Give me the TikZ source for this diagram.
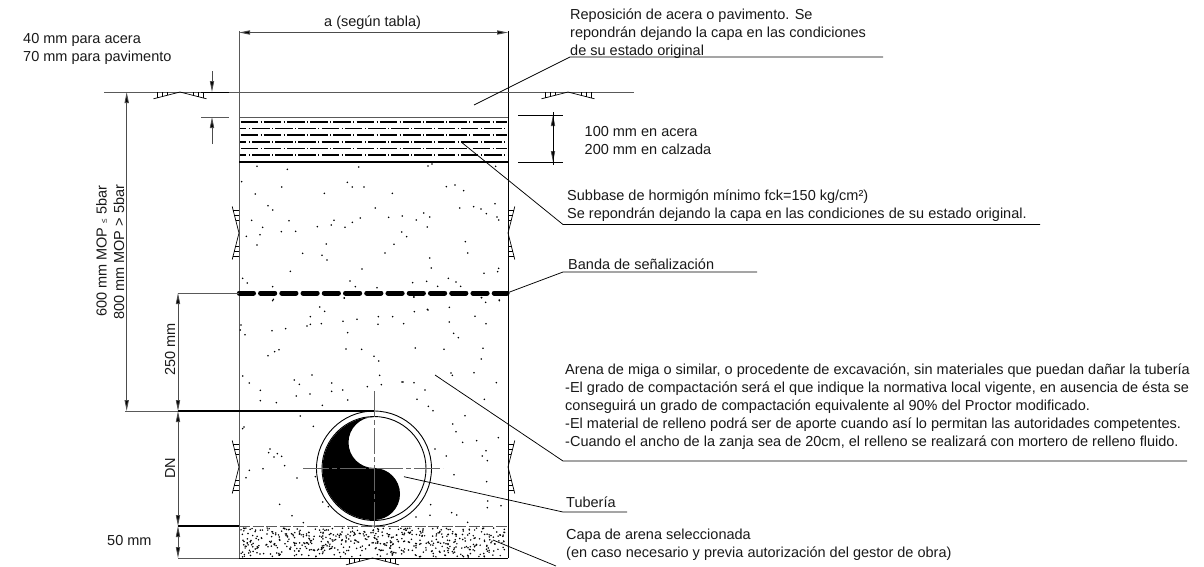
\documentclass[tikz,border=0pt]{standalone}
\usepackage{fontspec}
\setmainfont{Liberation Sans}
\usetikzlibrary{arrows.meta}
\tikzset{
  x=1pt,y=-1pt,
  wire/.style={draw=black,line width=0.75pt},
  soft/.style={draw=black!65,line width=0.85pt},
  strong/.style={draw=black,line width=1.2pt},
  tipped/.style={draw=black!70,line width=0.85pt,-{Triangle[length=11pt,width=4.2pt,fill=black]}},
  caption/.style={font=\fontsize{14.5}{18}\selectfont,anchor=north west,inner sep=0pt,align=left,text=black!90},
  upcaption/.style={font=\fontsize{14.5}{18}\selectfont,anchor=base west,inner sep=0pt,rotate=90,text=black!90},
  layerline/.style={draw=black,line width=1.1pt,dash pattern=on 17.6pt off 2.4pt on 0.9pt off 2.3pt},
  centreline/.style={draw=black!60,line width=0.9pt,dash pattern=on 26pt off 3pt on 5pt off 3pt},
  pics/earthmark/.style={code={
    \draw[wire,line width=0.7pt] (-26.5,6.8) -- (0,0) -- (26.5,6.8);
    \foreach \t in {-23,-18,-13,13,18,23}{
      \pgfmathsetmacro\h{abs(\t)*0.256}
      \draw[wire,line width=0.6pt] (\t,0) -- (\t,\h);
    }
  }}
}
\begin{document}
\begin{tikzpicture}
\useasboundingbox (0,0) rectangle (1204,566);

% named points of the trench
\coordinate (wallLtop) at (239,31);
\coordinate (wallRtop) at (508,31);
\coordinate (wallLbot) at (239,558);
\coordinate (wallRbot) at (508,558);
\coordinate (aL) at (239,32.5);
\coordinate (aR) at (508,32.5);
\coordinate (groundL) at (104,92);
\coordinate (groundR) at (634,92);

% walls, ground, layers
\draw[soft] (wallLtop) -- (wallLbot);
\draw[wire,line width=0.95pt] (wallRtop) -- (wallRbot);
\draw[soft] (groundL) -- (groundR);
\draw[soft] (239,117) -- (508,117);
\draw[strong,line width=1.5pt] (239,162) -- (508,162);
\foreach \yy in {122,135,148.6,162}
  \draw[layerline] (240.5,\yy) -- (507,\yy);
\foreach \yy in {128.6,142,155}
  \draw[layerline,dash phase=11.2pt] (240,\yy) -- (507,\yy);

% earth marks
\pic at (180,92) {earthmark};
\pic at (568,92) {earthmark};
\pic at (372.5,558) {earthmark};
\pic[rotate=-90] at (239,233) {earthmark};
\pic[rotate=90] at (508,233) {earthmark};
\pic[rotate=-90] at (239,467) {earthmark};
\pic[rotate=90] at (508,467) {earthmark};

% fill dots, upper part
\begin{scope}[shift={(220,80)},x=0.33333pt,y=-0.33333pt]
\foreach \a/\b in {111/259,202/268,416/261,624/258,636/252,827/259,65/305,382/307,397/321,432/321,185/321,106/342,313/340,517/340,679/320,705/315,731/332,144/377,158/390,466/384,719/384,761/380,783/387,799/401,825/371,95/421,207/422,342/421,421/414,397/427,506/412,547/408,589/420,611/399,629/411,622/441,831/411,836/420,128/442,334/435,292/440,375/442,79/469,120/464,184/455,227/454,545/456,560/470,111/495,319/492,522/493,736/485,248/520,306/526,321/540,495/519,743/519,629/534,211/574,426/567,634/564,836/565,833/575,792/580,68/595,82/609,158/620,390/603,406/620,471/623,578/608,620/604,653/619,685/595,708/606,722/619,373/654,582/651,785/653,838/660,160/658}
  \fill (\a,\b) circle (0.85pt);
\end{scope}
% fill dots, middle part
\begin{scope}[shift={(230,285)},x=0.33333pt,y=-0.33333pt]
\foreach \a/\b in {128/47,343/39,551/36,754/38,767/52,808/47,269/66,284/79,553/80,592/73,594/75,658/67,241/95,445/95,488/95,735/94,339/109,381/103,658/111,241/118,231/123,274/116,444/118,521/116,768/116,33/120,31/135,45/149,126/137,167/131,353/143,671/145,685/158,348/192,395/193,556/189,642/193,759/190,147/194,134/200,114/212,432/214,446/228,754/222,38/273,246/270,449/271,663/264,667/271,732/263,193/285,58/294,208/298,305/294,454/299,516/291,519/291,552/293,799/293,412/305,91/316,305/319,338/315,585/315,199/333,240/327,91/347,139/353,353/345,561/343,763/343,277/361,595/364,609/377,705/392,211/393,668/417,250/424,42/426,38/431,678/440}
  \fill (\a,\b) circle (0.85pt);
\end{scope}
% fill dots, around the pipe
\begin{scope}[shift={(150,400)},x=0.33333pt,y=-0.33333pt]
\foreach \a/\b in {938/127,980/122,1045/113,855/147,1008/152,997/168,1012/182,889/168,912/224,1010/245,1013/303,1053/317,1012/323,842/314,905/338,920/345,840/346,798/351,953/367,360/147,356/158,382/161,372/171,395/169,404/197,298/211,339/206,288/233,441/234,496/230,389/313,518/306,535/320,426/347,460/368}
  \fill (\a,\b) circle (0.85pt);
\end{scope}
% selected sand
\pgfmathsetseed{11}
\foreach \i in {1,...,560}{
  \pgfmathsetmacro\dx{241+rnd*266}
  \pgfmathsetmacro\dy{528+rnd*29}
  \fill (\dx,\dy) circle (0.85pt);
}
\draw[draw=black!65,line width=1pt,dash pattern=on 11pt off 2.5pt] (239,526) -- (508,526);
\draw[wire,line width=1pt] (239,558) -- (508,558);

% warning band
\coordinate (bandL) at (239.3,293);
\coordinate (bandR) at (507,293);
\draw[line width=5pt,line cap=round,dash pattern=on 14.2pt off 7.04pt] (bandL) -- (bandR);

% pipe
\fill[white] (374,468.5) circle (57pt);
\node[circle,draw=black,line width=0.9pt,minimum size=115pt,inner sep=0pt] (pipeOuter) at (374,468.5) {};
\node[circle,draw=black,line width=0.9pt,minimum size=104pt,inner sep=0pt] (pipeInner) at (374,468.5) {};
\fill (374,417) arc[start angle=90,end angle=270,radius=51.5pt]
      arc[start angle=-90,end angle=90,radius=26pt]
      arc[start angle=-90,end angle=-270,radius=25.5pt] -- cycle;
\coordinate (cvT) at (374,391);
\coordinate (cvB) at (374,531);
\coordinate (chL) at (303,468.5);
\coordinate (chR) at (443,468.5);
\draw[centreline] (cvT) -- (cvB);
\draw[centreline] (chL) -- (chR);

% dimension: a
\draw[tipped] (374,32.5) -- (aL);
\draw[tipped] (374,32.5) -- (aR);
\node[caption] (dimA) at (324,13.4) {\strut a (según tabla)};

% dimension: surface layer
\coordinate (sTop) at (212,71);
\coordinate (sG) at (212,92);
\coordinate (sB) at (212,117);
\coordinate (sBot) at (212,144);
\draw[soft] (201,117) -- (229,117);
\draw[strong,line width=1pt] (201,92) -- (229,92);
\draw[tipped] (sTop) -- (sG);
\draw[tipped] (sBot) -- (sB);
\node[caption] (surfaceNote) at (23,30.6) {\strut 40 mm para acera\\70 mm para pavimento};

% dimension: subbase thickness
\coordinate (hMid) at (553,138.5);
\coordinate (hTop) at (553,115);
\coordinate (hBot) at (553,162);
\draw[wire] (518,115) -- (563,115);
\draw[wire] (518,162) -- (563,162);
\draw[tipped] (hMid) -- (hTop);
\draw[tipped] (hMid) -- (hBot);
\draw[wire] (553,112) -- (553,165);
\node[caption] (thickNote) at (584.5,123.4) {\strut 100 mm en acera\\200 mm en calzada};

% dimensions: left column
\coordinate (mopTop) at (126.7,92);
\coordinate (mopBot) at (126.7,411);
\coordinate (bandDim) at (178,293);
\coordinate (pipeTopDim) at (178,411);
\coordinate (pipeBotDim) at (178,526);
\coordinate (sandBotDim) at (178,558);
\draw[soft] (bandDim) -- (bandL);
\draw[soft] (125,411) -- (pipeTopDim);
\draw[strong] (pipeTopDim) -- (374,411);
\draw[strong] (pipeBotDim) -- (239,526);
\draw[soft] (sandBotDim) -- (239,558);
\draw[tipped] (252,0) ++(-125.3,251.5) coordinate (mopMid) -- (mopTop);
\draw[tipped] (mopMid) -- (mopBot);
\coordinate (m1) at (178,352);
\coordinate (m2) at (178,468.5);
\coordinate (m3) at (178,542);
\draw[tipped] (m1) -- (bandDim);
\draw[tipped] (m1) -- (pipeTopDim);
\draw[tipped] (m2) -- (pipeTopDim);
\draw[tipped] (m2) -- (pipeBotDim);
\draw[tipped] (m3) -- (pipeBotDim);
\draw[tipped] (m3) -- (sandBotDim);
\node[upcaption] (mopLow) at (106.5,317) {600 mm MOP {\fontsize{8}{8}\selectfont ≤} 5bar};
\node[upcaption] (mopHigh) at (124,320) {800 mm MOP > 5bar};
\node[upcaption] (t250) at (175,375.5) {250 mm};
\node[upcaption] (tDN) at (175,479) {DN};
\node[caption] (t50) at (107,532.6) {\strut 50 mm};

% captions with leaders
\node[caption] (capRepo) at (570,6.4) {\strut Reposición de acera o pavimento. Se\\repondrán dejando la capa en las condiciones\\de su estado original};
\coordinate (lRepoA) at (474,105);
\coordinate (lRepoB) at (570,57);
\coordinate (lRepoC) at (883,57);
\draw[wire] (lRepoA) -- (lRepoB) -- (lRepoC);

\node[caption] (capSub) at (567,187.4) {\strut Subbase de hormigón mínimo fck=150 kg/cm²)\\Se repondrán dejando la capa en las condiciones de su estado original.};
\coordinate (lSubA) at (462,142.7);
\coordinate (lSubB) at (563,224.5);
\coordinate (lSubC) at (1040,224.5);
\draw[wire] (lSubA) -- (lSubB) -- (lSubC);

\node[caption] (capBand) at (568,256.4) {\strut Banda de señalización};
\coordinate (lBandB) at (563,272);
\coordinate (lBandC) at (757,272);
\draw[wire] (bandR) -- (lBandB) -- (lBandC);

\node[caption] (capFill) at (565,361.4) {\strut Arena de miga o similar, o procedente de excavación, sin materiales que puedan dañar la tubería\\-El grado de compactación será el que indique la normativa local vigente, en ausencia de ésta se\\conseguirá un grado de compactación equivalente al 90\% del Proctor modificado.\\-El material de relleno podrá ser de aporte cuando así lo permitan las autoridades competentes.\\-Cuando el ancho de la zanja sea de 20cm, el relleno se realizará con mortero de relleno fluido.};
\coordinate (lFillA) at (435,375);
\coordinate (lFillB) at (563,461);
\coordinate (lFillC) at (1187,461);
\draw[wire] (lFillA) -- (lFillB) -- (lFillC);

\node[caption] (capPipe) at (566,494.4) {\strut Tubería};
\coordinate (lPipeA) at (404,476.7);
\coordinate (lPipeB) at (563,512);
\coordinate (lPipeC) at (627,512);
\draw[wire] (lPipeA) -- (lPipeB) -- (lPipeC);

\node[caption] (capSand) at (566,526.4) {\strut Capa de arena seleccionada\\(en caso necesario y previa autorización del gestor de obra)};
\coordinate (lSandA) at (493,540);
\coordinate (lSandB) at (556,566);
\draw[wire] (lSandA) -- (lSandB);
\end{tikzpicture}
\end{document}
